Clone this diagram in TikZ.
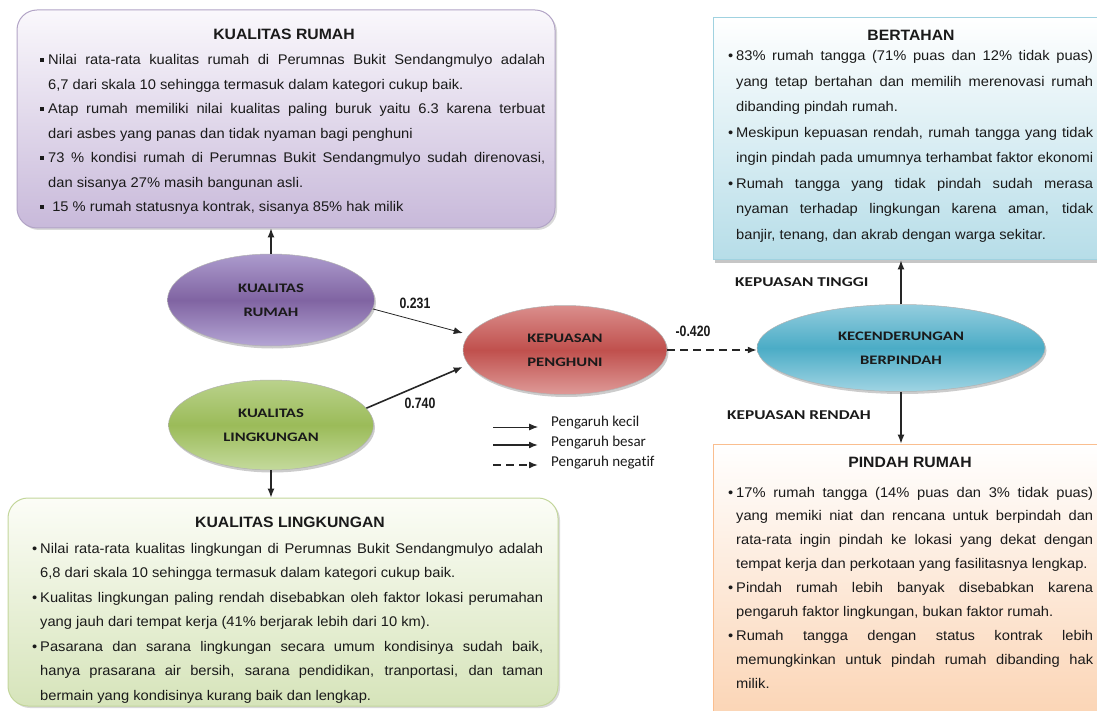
\documentclass[tikz,border=0pt]{standalone}
\usepackage{fontspec}
\setmainfont{Liberation Sans}
\usetikzlibrary{arrows.meta,shadows,shapes.geometric}
\newfontfamily\bodyf[FakeStretch=1.05]{Liberation Sans}
\newfontfamily\numf[FakeStretch=0.82]{Liberation Sans}
\newfontfamily\ellf[FakeStretch=1.28,Ligatures=NoCommon]{Carlito}
\newfontfamily\legf[Ligatures=NoCommon]{Carlito}
\newlength\bullw \setlength\bullw{8pt}
\newlength\restw
\newcommand\sqb{\raisebox{3pt}{\rule{3.5pt}{3.5pt}}}
\newcommand\rdb{\textbullet}
\newcommand\BJ[2]{\par\noindent\makebox[\bullw][l]{#1}\makebox[\restw][s]{#2}}
\newcommand\BL[2]{\par\noindent\makebox[\bullw][l]{#1}#2}
\newcommand\CJ[1]{\par\noindent\hspace*{\bullw}\makebox[\restw][s]{#1}}
\newcommand\CL[1]{\par\noindent\hspace*{\bullw}#1}
\newcommand\bodysetup[1]{\fontsize{14}{#1}\bodyf\setlength\restw{\dimexpr\linewidth-\bullw\relax}}
\definecolor{txt}{HTML}{1A1A1A}
\begin{document}
\begin{tikzpicture}[x=1pt,y=-1pt,
  boxs/.style={draw, line width=1pt, inner sep=0pt},
  ell/.style={ellipse, draw=white!70!black, line width=0.5pt, align=center,
    font=\fontsize{13}{24}\ellf\bfseries, text=txt,
    drop shadow={shadow xshift=1.5pt,shadow yshift=-2.5pt,opacity=0.4}},
  ttl/.style={anchor=base, inner sep=0pt, font=\fontsize{15}{18}\bodyf\bfseries, text=txt},
  body/.style={anchor=base west, inner sep=0pt, text=txt},
  numlab/.style={inner sep=0pt, font=\fontsize{15}{18}\numf\bfseries, text=txt},
  sidelab/.style={anchor=west, inner sep=0pt, font=\fontsize{13.5}{16}\ellf\bfseries, text=txt},
  legtxt/.style={anchor=west, inner sep=0pt, font=\fontsize{15}{18}\legf, text=txt},
  arr/.style={-{Latex[length=9pt,width=7pt]}, line width=0.8pt, black!85},
  arrbig/.style={-{Latex[length=9pt,width=7pt]}, line width=1.6pt, black!85},
  arrneg/.style={-{Latex[length=9pt,width=7pt]}, line width=1.6pt, dash pattern=on 8pt off 5pt, black!85}]
\useasboundingbox (0,0) rectangle (1097,711);
\clip (0,0) rectangle (1097,711);

% boxes
\node[boxs, rounded corners=20pt, draw={rgb,255:red,178;green,164;blue,198},
  top color={rgb,255:red,250;green,248;blue,252}, bottom color={rgb,255:red,200;green,185;blue,218},
  minimum width=538pt, minimum height=218pt,
  drop shadow={shadow xshift=2pt,shadow yshift=-2pt,opacity=0.3}] (b1) at (286,119) {};
\node[boxs, rounded corners=20pt, draw={rgb,255:red,195;green,214;blue,155},
  top color={rgb,255:red,252;green,253;blue,247}, bottom color={rgb,255:red,214;green,228;blue,186},
  minimum width=550pt, minimum height=208pt,
  drop shadow={shadow xshift=2pt,shadow yshift=-2pt,opacity=0.3}] (b3) at (283,602) {};
\node[boxs, draw={rgb,255:red,160;green,210;blue,224},
  top color=white, bottom color={rgb,255:red,182;green,221;blue,232},
  minimum width=392pt, minimum height=242pt,
  drop shadow={shadow xshift=2pt,shadow yshift=-3pt,opacity=0.45}] (bt) at (909,139) {};
\node[boxs, draw={rgb,255:red,250;green,190;blue,143},
  top color=white, bottom color={rgb,255:red,251;green,212;blue,180},
  minimum width=392pt, minimum height=276pt] (bp) at (909,582) {};

% titles
\node[ttl] (t1) at (284,40) {KUALITAS RUMAH};
\node[ttl] (t3) at (290,527) {KUALITAS LINGKUNGAN};
\node[ttl] (tt) at (911,41) {BERTAHAN};
\node[ttl] (tp) at (910,467) {PINDAH RUMAH};

% body texts
\node[body] (x1) at (40,65) {\begin{minipage}[t]{505pt}\bodysetup{24.5}%
\BJ{\sqb}{Nilai rata-rata kualitas rumah di Perumnas Bukit Sendangmulyo adalah}
\CL{6,7 dari skala 10 sehingga termasuk dalam kategori cukup baik.}
\BJ{\sqb}{Atap rumah memiliki nilai kualitas paling buruk yaitu 6.3 karena terbuat}
\CL{dari asbes yang panas dan tidak nyaman bagi penghuni}
\BJ{\sqb}{73 \% kondisi rumah di Perumnas Bukit Sendangmulyo sudah direnovasi,}
\CL{dan sisanya 27\% masih bangunan asli.}
\BL{\sqb}{\ 15 \% rumah statusnya kontrak, sisanya 85\% hak milik}
\end{minipage}};

\node[body] (x3) at (32,553) {\begin{minipage}[t]{511pt}\bodysetup{24.5}%
\BJ{\rdb}{Nilai rata-rata kualitas lingkungan di Perumnas Bukit Sendangmulyo adalah}
\CL{6,8 dari skala 10 sehingga termasuk dalam kategori cukup baik.}
\BJ{\rdb}{Kualitas lingkungan paling rendah disebabkan oleh faktor lokasi perumahan}
\CL{yang jauh dari tempat kerja (41\% berjarak lebih dari 10 km).}
\BJ{\rdb}{Pasarana dan sarana lingkungan secara umum kondisinya sudah baik,}
\CJ{hanya prasarana air bersih, sarana pendidikan, tranportasi, dan taman}
\CL{bermain yang kondisinya kurang baik dan lengkap.}
\end{minipage}};

\node[body] (xt) at (728,61) {\begin{minipage}[t]{365pt}\bodysetup{25.5}%
\BJ{\rdb}{83\% rumah tangga (71\% puas dan 12\% tidak puas)}
\CJ{yang tetap bertahan dan memilih merenovasi rumah}
\CL{dibanding pindah rumah.}
\BJ{\rdb}{Meskipun kepuasan rendah, rumah tangga yang tidak}
\CJ{ingin pindah pada umumnya terhambat faktor ekonomi}
\BJ{\rdb}{Rumah tangga yang tidak pindah sudah merasa}
\CJ{nyaman terhadap lingkungan karena aman, tidak}
\CL{banjir, tenang, dan akrab dengan warga sekitar.}
\end{minipage}};

\node[body] (xp) at (728,497) {\begin{minipage}[t]{365pt}\bodysetup{23.9}%
\BJ{\rdb}{17\% rumah tangga (14\% puas dan 3\% tidak puas)}
\CJ{yang memiki niat dan rencana untuk berpindah dan}
\CJ{rata-rata ingin pindah ke lokasi yang dekat dengan}
\CL{tempat kerja dan perkotaan yang fasilitasnya lengkap.}
\BJ{\rdb}{Pindah rumah lebih banyak disebabkan karena}
\CL{pengaruh faktor lingkungan, bukan faktor rumah.}
\BJ{\rdb}{Rumah tangga dengan status kontrak lebih}
\CJ{memungkinkan untuk pindah rumah dibanding hak}
\CL{milik.}
\end{minipage}};

% ellipses
\node[ell, minimum width=207pt, minimum height=92pt,
  top color={rgb,255:red,172;green,155;blue,205}, bottom color={rgb,255:red,180;green,165;blue,212},
  middle color={rgb,255:red,128;green,100;blue,162}] (kr) at (271,300) {KUALITAS\\RUMAH};
\node[ell, minimum width=205pt, minimum height=90pt,
  top color={rgb,255:red,186;green,210;blue,140}, bottom color={rgb,255:red,196;green,218;blue,156},
  middle color={rgb,255:red,155;green,187;blue,89}] (kl) at (271,425) {KUALITAS\\LINGKUNGAN};
\node[ell, minimum width=204pt, minimum height=89pt,
  top color={rgb,255:red,218;green,142;blue,140}, bottom color={rgb,255:red,222;green,154;blue,152},
  middle color={rgb,255:red,192;green,80;blue,77}] (kp) at (565,350) {KEPUASAN\\PENGHUNI};
\node[ell, minimum width=288pt, minimum height=87pt,
  top color={rgb,255:red,148;green,205;blue,222}, bottom color={rgb,255:red,160;green,212;blue,227},
  middle color={rgb,255:red,75;green,172;blue,198}] (kb) at (901,348) {KECENDERUNGAN\\BERPINDAH};

% connectors
\draw[arr, line width=1.1pt] (kr.north) -- (kr.north |- b1.south);
\draw[arr, line width=1.1pt] (kl.south) -- (kl.south |- b3.north);
\draw[arr] (kr.-5) -- ([yshift=17pt]kp.west);
\draw[arrbig] (kl.10) -- ([yshift=-17pt]kp.west);
\draw[arrneg] (kp.east) -- (kp.east -| kb.west);
\draw[arr, line width=1.1pt] (kb.north) -- (kb.north |- bt.south);
\draw[arr, line width=1.1pt] (kb.south) -- (kb.south |- bp.north);

% labels
\node[numlab] (l231) at (415,303) {0.231};
\node[numlab] (l740) at (420,403) {0.740};
\node[numlab] (l420) at (693,331) {-0.420};
\node[sidelab] (kt) at (735,282) {KEPUASAN TINGGI};
\node[sidelab] (kd) at (727,415) {KEPUASAN RENDAH};

% legend
\coordinate (la1) at (493,427); \coordinate (lb1) at (538,427);
\coordinate (la2) at (493,445); \coordinate (lb2) at (538,445);
\coordinate (la3) at (493,465); \coordinate (lb3) at (538,465);
\draw[arr] (la1) -- (lb1);
\draw[arrbig] (la2) -- (lb2);
\draw[arrneg] (la3) -- (lb3);
\node[legtxt] (g1) at (551,423) {Pengaruh kecil};
\node[legtxt] (g2) at (551,443) {Pengaruh besar};
\node[legtxt] (g3) at (551,463) {Pengaruh negatif};
\end{tikzpicture}
\end{document}
